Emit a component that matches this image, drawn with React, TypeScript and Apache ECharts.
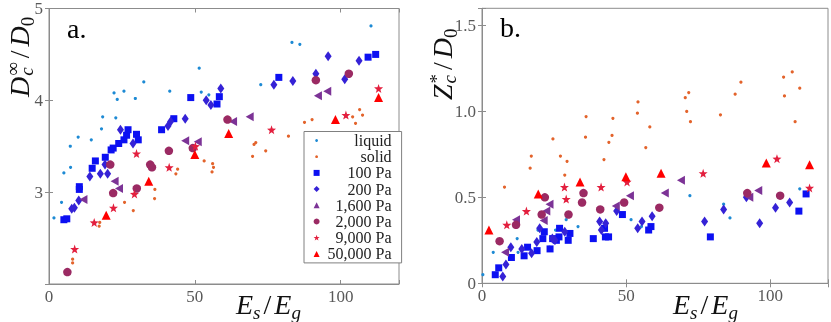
import React, { useEffect, useRef } from "react";
import * as echarts from "echarts";

// ---------- data: panel a (D_c^inf / D_0 vs E_s/E_g) ----------
const liquidA = [[1.7,2.72],[4.3,2.89],[5.1,3.21],[7.4,3.27],[7.3,3.50],[10.0,3.60],[14.5,3.57],[18.0,3.69],[18.4,3.82],[22.9,3.81],[22.3,4.08],[25.7,4.10],[23.4,4.01],[29.6,4.02],[32.5,4.20],[41.4,4.10],[51.5,4.35],[52.2,4.09],[54.8,4.06],[72.6,4.17],[83.3,4.63],[86.0,4.61],[110.4,4.81]];
const solidA = [[8.1,2.23],[8.1,2.27],[17.2,2.63],[17.4,2.67],[25.9,2.89],[28.9,2.80],[36.2,2.93],[36.3,3.03],[43.5,3.20],[44.1,3.25],[53.2,3.34],[55.9,3.22],[56.1,3.31],[56.4,3.27],[69.8,3.39],[70.3,3.52],[70.9,3.54],[74.3,3.45],[82.1,3.61],[87.6,3.76],[90.2,3.79],[104.1,3.82],[105.1,3.75],[106.5,3.90],[107.5,3.84]];
const pa100A = [[5.1,2.70],[6.1,2.71],[10.4,3.03],[10.4,3.06],[14.8,3.26],[15.9,3.34],[19.3,3.38],[21.3,3.46],[22.0,3.48],[23.9,3.53],[25.7,3.57],[26.6,3.62],[27.1,3.68],[30.0,3.63],[30.6,3.57],[38.6,3.68],[42.8,3.80],[48.6,4.03],[57.6,3.96],[58.4,4.04],[78.8,4.25],[109.4,4.47],[112.0,4.50]];
const pa200A = [[7.8,2.82],[8.7,2.83],[10.2,2.91],[14.0,3.17],[17.6,3.20],[19.2,3.30],[20.1,3.20],[24.5,3.68],[28.8,3.53],[40.8,3.72],[41.7,3.77],[46.7,3.80],[53.9,4.00],[55.5,3.95],[58.9,4.13],[77.1,4.17],[83.6,4.21],[91.5,4.29],[95.7,4.48],[101.4,4.23],[106.3,4.43]];
const pa1600A = [[11.8,2.92],[22.5,3.12],[24.0,3.04],[46.7,3.56],[51.0,3.55],[63.1,3.77],[68.8,3.82],[92.2,4.05],[95.4,4.10]];
const pa2000A = [[6.3,2.13],[21.0,3.30],[22.0,2.99],[30.1,3.04],[34.7,3.30],[35.3,3.27],[41.1,3.45],[49.3,3.48],[61.2,3.79],[91.5,4.22],[102.8,4.29]];
const pa9000A = [[8.8,2.38],[15.5,2.67],[22.1,2.83],[29.3,2.98],[30.0,3.42],[41.2,3.27],[50.2,3.50],[76.3,3.68],[101.8,3.84],[113.0,4.13]];
const pa50000A = [[19.6,2.75],[34.2,3.12],[50.0,3.41],[61.6,3.64],[98.2,3.79],[113.0,4.03]];

// ---------- data: panel b (Z_c^* / D_0 vs E_s/E_g) ----------
const liquidB = [[0.3,0.05],[3.9,0.18],[12.2,0.26],[12.5,0.18],[19.4,0.31],[23.4,0.21],[25.5,0.31],[29.2,0.37],[33.3,0.33],[51.7,0.37],[55.3,0.33],[72.1,0.51],[83.8,0.46],[86.0,0.38],[110.2,0.55]];
const solidB = [[7.8,0.56],[16.7,0.67],[17.1,0.74],[24.6,0.84],[27.2,0.74],[28.7,0.63],[29.5,0.71],[35.9,0.85],[36.1,0.97],[42.3,0.72],[44.0,0.82],[45.1,0.86],[45.4,0.96],[53.9,0.99],[54.1,1.055],[56.8,0.79],[58.2,0.91],[70.5,1.08],[71.0,1.00],[71.7,1.11],[72.3,0.94],[82.7,0.98],[87.8,1.10],[89.8,1.17],[104.6,1.20],[104.9,1.09],[107.6,1.23],[108.6,0.94],[110.2,1.135]];
const pa100B = [[4.6,0.05],[5.8,0.09],[10.2,0.15],[14.6,0.16],[15.8,0.21],[19.1,0.19],[21.1,0.26],[21.6,0.30],[23.6,0.20],[24.5,0.26],[25.8,0.25],[26.7,0.27],[26.9,0.32],[29.9,0.25],[30.5,0.29],[38.6,0.26],[42.5,0.32],[42.8,0.27],[43.9,0.27],[48.7,0.40],[57.8,0.31],[58.6,0.33],[79.2,0.27],[109.9,0.42],[112.4,0.52]];
const pa200B = [[7.2,0.04],[8.3,0.11],[10.0,0.21],[13.8,0.20],[17.2,0.175],[19.0,0.24],[20.0,0.32],[24.4,0.26],[25.3,0.25],[28.7,0.30],[40.8,0.36],[41.4,0.31],[42.9,0.35],[46.7,0.42],[54.0,0.32],[55.5,0.36],[59.0,0.39],[77.2,0.36],[83.8,0.43],[91.7,0.50],[96.3,0.35],[101.8,0.44],[106.7,0.47]];
const pa1600B = [[8.0,0.18],[11.8,0.37],[21.4,0.365],[22.3,0.42],[23.4,0.46],[46.4,0.45],[51.3,0.51],[63.4,0.525],[69.0,0.60],[92.7,0.50],[95.8,0.54]];
const pa2000B = [[6.1,0.245],[11.8,0.34],[20.7,0.40],[21.8,0.50],[30.0,0.40],[34.7,0.47],[35.2,0.525],[41.0,0.43],[49.3,0.47],[61.5,0.44],[92.0,0.525],[103.4,0.51]];
const pa9000B = [[8.6,0.34],[15.4,0.42],[28.6,0.56],[29.2,0.49],[41.3,0.56],[50.3,0.59],[76.7,0.64],[102.3,0.725],[113.6,0.555]];
const pa50000B = [[2.4,0.31],[19.5,0.52],[34.0,0.59],[49.9,0.62],[62.1,0.64],[98.6,0.70],[113.6,0.69]];

const seriesNames = ["liquid", "solid", "100 Pa", "200 Pa", "1,600 Pa", "2,000 Pa", "9,000 Pa", "50,000 Pa"];
const panelAData = [liquidA, solidA, pa100A, pa200A, pa1600A, pa2000A, pa9000A, pa50000A];
const panelBData = [liquidB, solidB, pa100B, pa200B, pa1600B, pa2000B, pa9000B, pa50000B];

const xTicks = [0, 50, 100];

const SERIF = "'Liberation Serif', 'Times New Roman', serif";
const STAR = "path://M0,-10L2.35,-3.24L9.51,-3.09L3.8,1.6L5.88,8.09L0,4.3L-5.88,8.09L-3.8,1.6L-9.51,-3.09L-2.35,-3.24Z";

const styles = [
  { color: "#1d8ad4", symbol: "circle", size: 3.2, rotate: 0 },
  { color: "#e3632b", symbol: "circle", size: 3.2, rotate: 0 },
  { color: "#0c10f2", symbol: "rect", size: 7, rotate: 0 },
  { color: "#3522d6", symbol: "diamond", size: [7, 10], rotate: 0 },
  { color: "#7c3396", symbol: "triangle", size: [9, 8], rotate: 90 },
  { color: "#9b2a63", symbol: "circle", size: 8.5, rotate: 0 },
  { color: "#e31f3e", symbol: STAR, size: 9, rotate: 0 },
  { color: "#ff0000", symbol: "triangle", size: 9, rotate: 0 },
];

type Piece = { t: string; s: number; it?: boolean; dy?: number; pre?: number; post?: number; stack?: boolean };

function mathGroup(pieces: Piece[], x: number, y: number, rotation: number) {
  const canvas = document.createElement("canvas");
  const ctx = canvas.getContext("2d") as CanvasRenderingContext2D;
  let pos = 0;
  let stackW = 0;
  const children: any[] = [];
  pieces.forEach((p) => {
    const font = `${p.it ? "italic " : ""}${p.s}px ${SERIF}`;
    ctx.font = font;
    const w = ctx.measureText(p.t).width;
    const pre = p.pre || 0;
    children.push({
      type: "text",
      x: pos + pre,
      y: (p.dy || 0) - 0.3375 * p.s,
      style: { text: p.t, font, fill: "#111", align: "left", verticalAlign: "middle", textAlign: "left", textVerticalAlign: "middle" },
    });
    if (p.stack) {
      stackW = Math.max(stackW, w + pre);
    } else {
      pos += Math.max(stackW, w + pre) + (p.post || 0);
      stackW = 0;
    }
  });
  return { type: "group", x, y, rotation, children };
}

const axisColor = "#8c8c8c";
const labelColor = "#595959";

function xAxes(gridIndex: number) {
  return [
    {
      type: "value", gridIndex, min: 0, max: 120, interval: 50, position: "bottom",
      axisLine: { show: true, lineStyle: { color: axisColor } },
      axisTick: { show: true, inside: true, length: 4, lineStyle: { color: axisColor } },
      axisLabel: {
        margin: 4, color: labelColor, fontFamily: SERIF, fontSize: 17,
        formatter: (v: number) => (xTicks.includes(v) ? String(v) : ""),
      },
      splitLine: { show: false },
    },
    {
      type: "value", gridIndex, min: 0, max: 120, interval: 50, position: "top",
      axisLine: { show: false },
      axisTick: { show: true, inside: true, length: 4, lineStyle: { color: axisColor } },
      axisLabel: { show: false },
      splitLine: { show: false },
    },
  ];
}

function yAxes(gridIndex: number, min: number, max: number, interval: number, fmt: (v: number) => string) {
  return [
    {
      type: "value", gridIndex, min, max, interval, position: "left",
      axisLine: { show: true, lineStyle: { color: axisColor } },
      axisTick: { show: true, inside: true, length: 4, lineStyle: { color: axisColor } },
      axisLabel: { margin: 6, color: labelColor, fontFamily: SERIF, fontSize: 17, formatter: fmt },
      splitLine: { show: false },
    },
    {
      type: "value", gridIndex, min, max, interval, position: "right",
      axisLine: { show: false },
      axisTick: { show: true, inside: true, length: 4, lineStyle: { color: axisColor } },
      axisLabel: { show: false },
      splitLine: { show: false },
    },
  ];
}

export default function App() {
  const ref = useRef<HTMLDivElement>(null);
  useEffect(() => {
    if (!ref.current) return;
    const chart = echarts.init(ref.current, null, { renderer: "svg" });

    const mkSeries = (data: number[][][], xIdx: number, yIdx: number) =>
      data.map((d, i) => ({
        type: "scatter",
        name: seriesNames[i],
        xAxisIndex: xIdx,
        yAxisIndex: yIdx,
        data: d,
        symbol: styles[i].symbol,
        symbolSize: styles[i].size,
        symbolRotate: styles[i].rotate,
        itemStyle: { color: styles[i].color, opacity: 1 },
        emphasis: { disabled: true },
        z: 2 + i,
      }));

    const sub = 19;
    const main = 28;
    const yTitleA: Piece[] = [
      { t: "D", s: main, it: true },
      { t: "∞", s: sub, dy: -10, stack: true, pre: 1 },
      { t: "c", s: sub, it: true, dy: 4, pre: 1 },
      { t: "/", s: main, pre: 4, post: 4 },
      { t: "D", s: main, it: true },
      { t: "0", s: sub, dy: 5 },
    ];
    const yTitleB: Piece[] = [
      { t: "Z", s: main, it: true },
      { t: "*", s: sub, dy: -9, stack: true, pre: 1 },
      { t: "c", s: sub, it: true, dy: 4, pre: 1 },
      { t: "/", s: main, pre: 4, post: 4 },
      { t: "D", s: main, it: true },
      { t: "0", s: sub, dy: 5 },
    ];
    const xTitle: Piece[] = [
      { t: "E", s: main, it: true },
      { t: "s", s: sub, it: true, dy: 5 },
      { t: "/", s: main, pre: 3, post: 3 },
      { t: "E", s: main, it: true },
      { t: "g", s: sub, it: true, dy: 5 },
    ];

    const legendData = seriesNames.map((n, i) =>
      i < 2
        ? { name: n, icon: "circle", itemStyle: { color: styles[i].color, borderColor: "#fff", borderWidth: 3.2 } }
        : { name: n }
    );

    chart.setOption({
      animation: false,
      grid: [
        { left: 49, top: 8.5, width: 350, height: 275.5, show: true, borderColor: axisColor, borderWidth: 1, backgroundColor: "transparent" },
        { left: 482, top: 8.3, width: 348.5, height: 275, show: true, borderColor: axisColor, borderWidth: 1, backgroundColor: "transparent" },
      ],
      xAxis: [...xAxes(0), ...xAxes(1)],
      yAxis: [
        ...yAxes(0, 2, 5, 1, (v: number) => (v === 2 ? "" : String(v))),
        ...yAxes(1, 0, 1.6, 0.5, (v: number) =>
          Math.abs(v * 2 - Math.round(v * 2)) > 1e-6 ? "" : v === 0 ? "0" : v.toFixed(1)
        ),
      ],
      legend: {
        left: 304,
        top: 131.5,
        orient: "vertical",
        itemWidth: 6,
        itemHeight: 6,
        itemGap: 0.2,
        itemTextGap: 3,
        padding: [1, 10, 1, 8],
        backgroundColor: "#fff",
        borderColor: "#808080",
        borderWidth: 1,
        selectedMode: false,
        formatter: (n: string) => `{r|${n}}`,
        textStyle: {
          rich: { r: { width: 67, align: "right", fontFamily: SERIF, fontSize: 16, lineHeight: 18, color: "#222" } },
        },
        data: legendData,
        z: 20,
      },
      series: [...mkSeries(panelAData, 0, 0), ...mkSeries(panelBData, 2, 2)],
      graphic: [
        { type: "text", x: 67, y: 38 - 0.3375 * 28, style: { text: "a.", font: `28px ${SERIF}`, fill: "#000", verticalAlign: "middle", textVerticalAlign: "middle" } },
        { type: "text", x: 500, y: 37 - 0.3375 * 28, style: { text: "b.", font: `28px ${SERIF}`, fill: "#000", verticalAlign: "middle", textVerticalAlign: "middle" } },
        mathGroup(yTitleA, 29, 97, Math.PI / 2),
        mathGroup(yTitleB, 452, 100, Math.PI / 2),
        mathGroup(xTitle, 236, 314, 0),
        mathGroup(xTitle, 673, 314, 0),
      ],
    });
    return () => chart.dispose();
  }, []);
  return <div ref={ref} style={{ position: "fixed", left: 0, top: 0, width: 831, height: 322 }} />;
}
